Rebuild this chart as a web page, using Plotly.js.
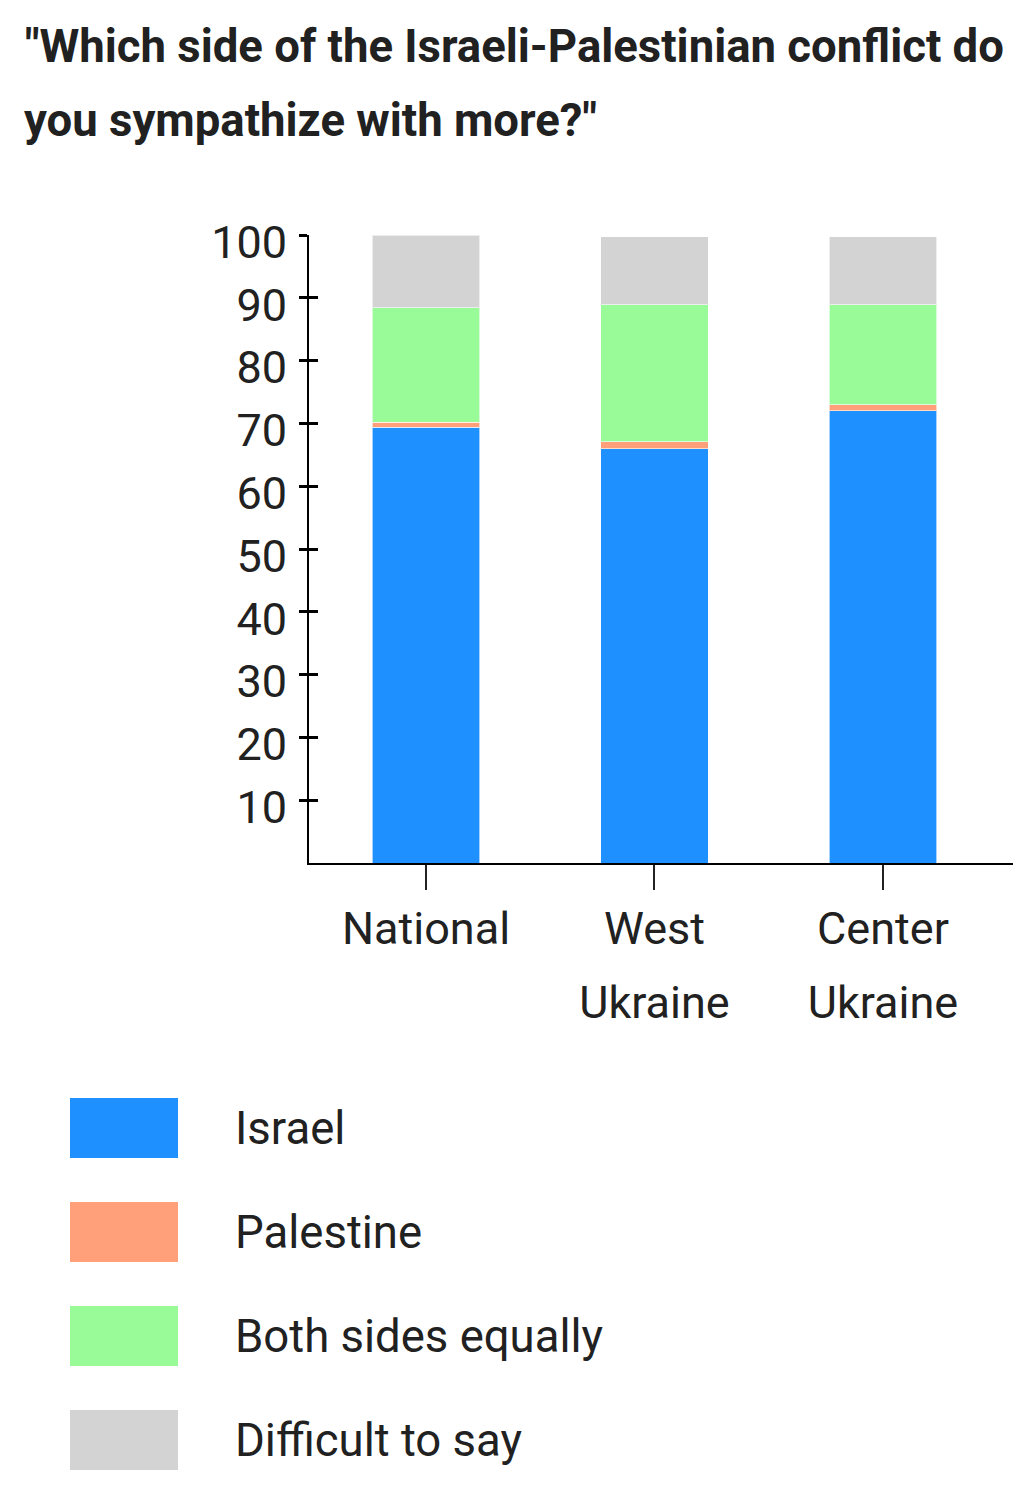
<!DOCTYPE html>
<html>
<head>
<meta charset="utf-8">
<script src="https://cdn.plot.ly/plotly-3.0.1.min.js"></script>
<style>
	body { margin: 0; background: #fff; }
	#chart { width: 1036px; height: 1493px; }
</style>
</head>
<body>
<div id="chart"></div>
<script>
// survey answers, percent
var categories = ["National", "West Ukraine", "Center Ukraine"];
var series_names = ["Israel", "Palestine", "Both sides equally", "Difficult to say"];
var israel = [69.4, 66.0, 72.0];
var palestine = [0.8, 1.1, 1.0];
var both_sides = [18.2, 21.8, 15.9];
var difficult = [11.6, 10.8, 10.8];
var y_ticks = [10, 20, 30, 40, 50, 60, 70, 80, 90, 100];

var series_values = [israel, palestine, both_sides, difficult];
var series_colors = ["#1e90ff", "#ffa07a", "#98fb98", "#d3d3d3"];

const W = 1036;
const H = 1493;
// plot area in pixels
const plot_left = 309;
const plot_right = 1013;
const plot_top = 235;
const plot_bottom = 863;
const text_color = "#212121";
const font_family = "Roboto, 'Noto Sans', sans-serif";

function px(x)
{
	return (x - plot_left) / (plot_right - plot_left);
}

function py(y)
{
	return (plot_bottom - y) / (plot_bottom - plot_top);
}

var x_range = [-0.512, 2.569];
var line1 = categories.map(c => c.split(" ")[0]);
var line2 = categories.map(c => c.split(" ").slice(1).join(" ") || " ");

var traces = series_values.map((vals, i) => ({
	type: "bar",
	name: series_names[i],
	x: categories,
	y: vals,
	width: 0.47,
	marker: {
		color: series_colors[i],
		line: {width: 1, color: "rgba(255,255,255,0.6)"}
	},
	hoverinfo: "y+name"
}));

// legend drawn by hand: big swatches, wide gaps
var shapes = [];
var annotations = [];
series_names.forEach((name, i) =>
{
	var top = 1098 + i * 104;
	shapes.push({
		type: "rect",
		xref: "paper",
		yref: "paper",
		x0: px(70),
		x1: px(178),
		y0: py(top),
		y1: py(top + 60),
		fillcolor: series_colors[i],
		line: {width: 0}
	});
	annotations.push({
		xref: "paper",
		yref: "paper",
		x: px(233),
		y: py(top + 30),
		xanchor: "left",
		yanchor: "middle",
		showarrow: false,
		text: name,
		font: {family: font_family, size: 45.5, color: text_color}
	});
});

// second title line, to keep the wide line spacing
annotations.push({
	xref: "paper",
	yref: "paper",
	x: px(22),
	y: py(121),
	xanchor: "left",
	yanchor: "middle",
	showarrow: false,
	text: "you sympathize with more?\"",
	font: {family: font_family, size: 45.5, weight: 700, color: text_color}
});

var layout = {
	width: W,
	height: H,
	barmode: "stack",
	showlegend: false,
	paper_bgcolor: "#ffffff",
	plot_bgcolor: "#ffffff",
	margin: {
		l: plot_left,
		r: W - plot_right,
		t: plot_top,
		b: H - plot_bottom,
		pad: 0
	},
	title: {
		text: "\"Which side of the Israeli-Palestinian conflict do",
		xref: "container",
		yref: "container",
		x: 25 / W,
		xanchor: "left",
		y: 1 - 46 / H,
		yanchor: "middle",
		font: {family: font_family, size: 45.5, weight: 700, color: text_color}
	},
	xaxis: {
		type: "category",
		categoryarray: categories,
		range: x_range,
		showline: true,
		linecolor: "#000",
		linewidth: 2,
		ticks: "outside",
		ticklen: 25,
		tickwidth: 2,
		tickcolor: "#222",
		tickvals: categories,
		ticktext: line1,
		ticklabelstandoff: 0,
		tickfont: {family: font_family, size: 45, color: text_color},
		showgrid: false,
		zeroline: false,
		fixedrange: true
	},
	xaxis2: {
		type: "category",
		categoryarray: categories,
		range: x_range,
		overlaying: "x",
		anchor: "y",
		side: "bottom",
		showline: false,
		ticks: "outside",
		ticklen: 25,
		tickcolor: "rgba(0,0,0,0)",
		tickvals: categories,
		ticktext: line2,
		ticklabelstandoff: 75,
		tickfont: {family: font_family, size: 45, color: text_color},
		showgrid: false,
		zeroline: false,
		fixedrange: true
	},
	yaxis: {
		range: [0, 100],
		showline: true,
		linecolor: "#000",
		linewidth: 2,
		ticks: "outside",
		ticklen: 8,
		tickwidth: 3,
		tickcolor: "#000",
		tickvals: y_ticks,
		ticklabelstandoff: 3,
		ticklabelshift: 7,
		tickfont: {family: font_family, size: 45, color: text_color},
		showgrid: false,
		zeroline: false,
		fixedrange: true
	},
	yaxis2: {
		range: [0, 100],
		overlaying: "y",
		anchor: "x",
		side: "left",
		showline: false,
		ticks: "inside",
		ticklen: 9,
		tickwidth: 3,
		tickcolor: "#000",
		tickvals: y_ticks,
		showticklabels: false,
		showgrid: false,
		zeroline: false,
		fixedrange: true
	},
	shapes: shapes,
	annotations: annotations
};

// an empty trace so that the overlay axes get drawn
traces.push({
	type: "scatter",
	x: [],
	y: [],
	xaxis: "x2",
	yaxis: "y2",
	hoverinfo: "skip",
	showlegend: false
});

Plotly.newPlot("chart", traces, layout, {displayModeBar: false, staticPlot: true});
</script>
</body>
</html>
